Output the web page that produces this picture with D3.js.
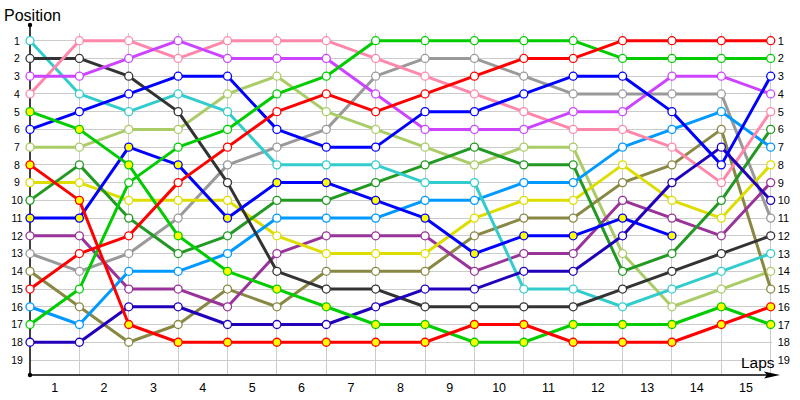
<!DOCTYPE html>
<html><head><meta charset="utf-8">
<script src="https://cdn.jsdelivr.net/npm/d3@7"></script>
<style>body{margin:0;background:#fff}svg{display:block}</style>
</head><body><svg id="c" width="800" height="400"></svg>
<script>
// ---- data ----
const lapLabels = d3.range(1, 16);          // 1..15
const positionTicks = d3.range(1, 20);      // 1..19
const pointIndex = d3.range(0, 16);         // lap boundaries 0..15

const redLeader   = [15,13,12,9,7,5,4,5,4,3,2,2,1,1,1,1];
const redBack     = [8,10,17,18,18,18,18,18,18,17,17,18,18,18,17,16];
const greenBack   = [5,6,8,12,14,15,16,17,17,18,18,17,17,17,16,17];
const greenFront  = [17,15,9,7,6,4,3,1,1,1,1,1,2,2,2,2];
const darkGray    = [2,2,3,5,9,14,15,15,16,16,16,16,15,14,13,12];
const cyan        = [1,4,5,4,5,8,8,8,9,9,15,15,16,15,14,13];
const pink        = [4,1,1,2,1,1,1,2,3,4,5,6,6,7,9,5];
const violet      = [3,3,2,1,2,2,2,4,6,6,6,5,5,3,3,4];
const blue        = [6,5,4,3,3,6,7,7,5,5,4,3,3,5,8,3];
const darkBlue    = [18,18,16,16,17,17,17,16,15,15,14,14,12,9,7,10];
const blueRetired = [11,11,7,8,11,9,9,10,11,13,12,12,11,12,null,null];
const lightBlue   = [16,17,14,14,13,11,11,11,10,10,9,9,7,6,5,7];
const lightGreen  = [7,7,6,6,4,3,5,6,7,8,7,7,13,16,15,14];
const forestGreen = [10,8,11,13,12,10,10,9,8,7,8,8,14,13,10,6];
const gray        = [13,14,13,11,8,7,6,3,2,2,3,4,4,4,4,11];
const yellow      = [9,9,10,10,10,12,13,13,13,11,10,10,8,10,11,8];
const purple      = [12,12,15,15,16,13,12,12,12,14,13,13,10,11,12,9];
const olive       = [14,16,18,17,15,16,14,14,14,12,11,11,9,8,6,15];

const series = [
  {values: gray,        color: "#999999", mark: "#ffffff"},
  {values: lightGreen,  color: "#aacc66", mark: "#ffffff"},
  {values: olive,       color: "#888844", mark: "#ffffff"},
  {values: purple,      color: "#993399", mark: "#ffffff"},
  {values: yellow,      color: "#dddd00", mark: "#ffffff"},
  {values: forestGreen, color: "#229922", mark: "#ffffff"},
  {values: lightBlue,   color: "#0099ff", mark: "#ffffff"},
  {values: cyan,        color: "#33cccc", mark: "#ffffff"},
  {values: darkGray,    color: "#333333", mark: "#ffffff"},
  {values: pink,        color: "#ff88aa", mark: "#ffffff"},
  {values: violet,      color: "#cc44ff", mark: "#ffffff"},
  {values: darkBlue,    color: "#2200bb", mark: "#ffffff"},
  {values: blue,        color: "#0000ff", mark: "#ffffff"},
  {values: blueRetired, color: "#0000ff", mark: "#ffff00"},
  {values: greenFront,  color: "#00cc00", mark: "#ffffff"},
  {values: greenBack,   color: "#00cc00", mark: "#ffff00"},
  {values: redBack,     color: "#ff0000", mark: "#ffff00"},
  {values: redLeader,   color: "#ff0000", mark: "#ffffff"}
];

// ---- layout ----
const svg = d3.select("#c");
const x = d3.scaleLinear().domain([0, 15]).range([30, 770.7]);
const y = d3.scaleLinear().domain([1, 19]).range([40.7, 360]);
const xBand = d3.scaleBand().domain(lapLabels).range([30, 770.7]).padding(0);
const font = "'Liberation Sans', Arial, sans-serif";

// grid
const grid = svg.append("g");
grid.selectAll("line.h").data(positionTicks).join("line")
  .attr("x1", 30).attr("x2", 772).attr("y1", d => y(d)).attr("y2", d => y(d))
  .attr("stroke", "#cccccc").attr("stroke-width", 1).attr("shape-rendering", "crispEdges");
grid.selectAll("line.v").data(pointIndex.slice(1)).join("line")
  .attr("x1", d => x(d)).attr("x2", d => x(d)).attr("y1", 33).attr("y2", 375)
  .attr("stroke", "#cccccc").attr("stroke-width", 1).attr("shape-rendering", "crispEdges");

// axes lines
svg.append("line").attr("x1", 30).attr("x2", 30).attr("y1", 25).attr("y2", 375)
  .attr("stroke", "#000").attr("stroke-width", 1.5);
svg.append("circle").attr("cx", 30).attr("cy", 25).attr("r", 2.2).attr("fill", "#000");
svg.append("circle").attr("cx", 30).attr("cy", 375).attr("r", 2.2).attr("fill", "#000");
svg.append("line").attr("x1", 30).attr("x2", 772).attr("y1", 375).attr("y2", 375)
  .attr("stroke", "#000").attr("stroke-width", 1.5);
svg.append("path").attr("d", "M764,371.5 L780,375 L764,378.5 L767,375 Z").attr("fill", "#000");

// left axis labels
const leftAxis = svg.append("g").attr("transform", "translate(30,0)")
  .call(d3.axisLeft(y).tickValues(positionTicks).tickSize(0).tickPadding(8).tickFormat(d3.format("d")));
leftAxis.select(".domain").remove();
leftAxis.selectAll("text").attr("x", -13).attr("text-anchor", "middle")
  .style("font-family", font).style("font-size", "10.5px").attr("fill", "#000");

// right axis labels
const rightAxis = svg.append("g").attr("transform", "translate(770.7,0)")
  .call(d3.axisRight(y).tickValues(positionTicks).tickSize(0).tickPadding(7).tickFormat(d3.format("d")));
rightAxis.select(".domain").remove();
rightAxis.selectAll("text").style("font-family", font).style("font-size", "11px").attr("fill", "#000");

// bottom lap labels
const bottomAxis = svg.append("g").attr("transform", "translate(0,375)")
  .call(d3.axisBottom(xBand).tickSize(0).tickPadding(8));
bottomAxis.select(".domain").remove();
bottomAxis.selectAll("text").style("font-family", font).style("font-size", "12.5px").attr("fill", "#000");

// titles
svg.append("text").attr("x", 4).attr("y", 21).text("Position")
  .style("font-family", font).style("font-size", "16px").attr("fill", "#000");
svg.append("text").attr("x", 741).attr("y", 368).text("Laps")
  .style("font-family", font).style("font-size", "15.5px").attr("fill", "#000");

// series lines
const line = d3.line().defined(d => d != null).x((d, i) => x(i)).y(d => y(d));
const gLines = svg.append("g");
series.forEach(s => {
  gLines.append("path").datum(s.values).attr("d", line)
    .attr("fill", "none").attr("stroke", s.color).attr("stroke-width", 3)
    .attr("stroke-linejoin", "round");
});
// markers
const gMarks = svg.append("g");
series.forEach(s => {
  const pts = s.values.map((v, i) => ({v, i})).filter(p => p.v != null);
  gMarks.append("g").selectAll("circle").data(pts).join("circle")
    .attr("cx", p => x(p.i)).attr("cy", p => y(p.v)).attr("r", 4)
    .attr("fill", s.mark).attr("stroke", s.color).attr("stroke-width", 1.3);
});
</script></body></html>
